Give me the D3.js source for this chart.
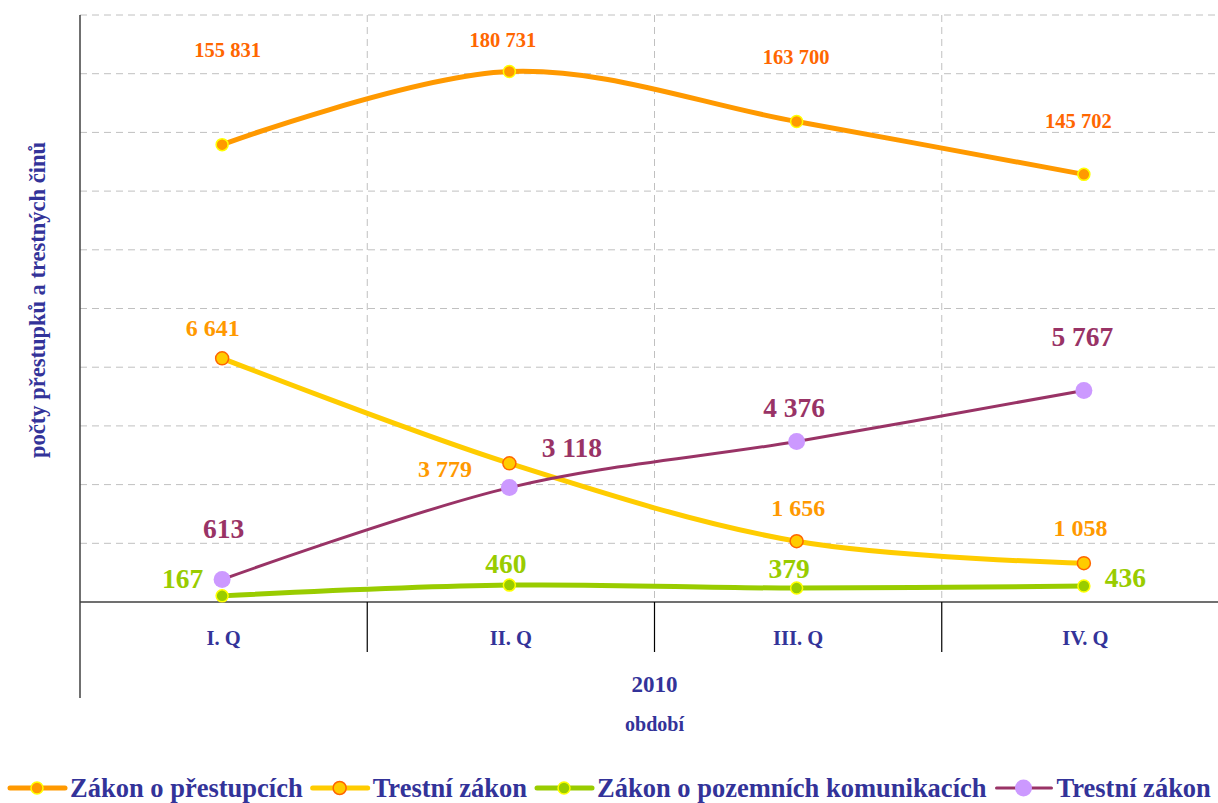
<!DOCTYPE html>
<html>
<head>
<meta charset="utf-8">
<script src="https://cdn.jsdelivr.net/npm/d3@7"></script>
<style>
body { margin: 0; background: #fff; }
text { font-family: "Liberation Serif", "Times New Roman", serif; font-weight: bold; }
</style>
</head>
<body>
<div id="vizDiv"></div>
<script>
// data
var quarters = ["I. Q", "II. Q", "III. Q", "IV. Q"]
var yearLabel = "2010"
var seriesNames = ["Zákon o přestupcích", "Trestní zákon", "Zákon o pozemních komunikacích", "Trestní zákon"]
var prestupky = [155831, 180731, 163700, 145702]
var trestniZakon = [6641, 3779, 1656, 1058]
var pozemniKomunikace = [167, 460, 379, 436]
var trestniZakon2 = [613, 3118, 4376, 5767]
var leftAxisMax = 16000
var rightAxisMax = 200000
var gridCount = 10

var width = 1218
var height = 803
var plotLeft = 80, plotRight = 1229, plotTop = 15, plotBottom = 602
var navy = "#333399"

var svg = d3.select("#vizDiv")
    .append("svg")
    .attr("width", width)
    .attr("height", height)

var x = d3.scaleBand().domain(quarters).range([plotLeft, plotRight])
var yLeft = d3.scaleLinear().domain([0, leftAxisMax]).range([plotBottom, plotTop])
var yRight = d3.scaleLinear().domain([0, rightAxisMax]).range([plotBottom, plotTop])

// styles per series (first one sits on the hidden secondary axis)
var series = [
    {name: seriesNames[0], values: prestupky, y: yRight, line: "#FF9900", lw: 5, r: 6, fill: "#FF9900", stroke: "#FFFF00", labelColor: "#FF6600", fs: 20.5},
    {name: seriesNames[1], values: trestniZakon, y: yLeft, line: "#FFCC00", lw: 5, r: 6.5, fill: "#FFCC00", stroke: "#FF6600", labelColor: "#FF9900", fs: 24},
    {name: seriesNames[2], values: pozemniKomunikace, y: yLeft, line: "#99CC00", lw: 5, r: 6, fill: "#99CC00", stroke: "#FFFF00", labelColor: "#99CC00", fs: 27.5},
    {name: seriesNames[3], values: trestniZakon2, y: yLeft, line: "#993366", lw: 3, r: 8.5, fill: "#CC99FF", stroke: "none", labelColor: "#993366", fs: 27.5}
]

// hand placed label offsets [dx, dy] from each point
var labelShift = [
    [[4, -88], [-8, -25], [-2, -58], [-7, -46]],
    [[-11, -22], [-66, 14], [0, -25], [-5, -27]],
    [[-41, -8], [-5, -12], [-9, -10], [40, 1]],
    [[0, -42], [61, -31], [-4, -24], [-3, -44]]
]

var fmt = d3.formatLocale({decimal: ",", thousands: " ", grouping: [3], currency: ["", ""]}).format(",d")

// horizontal gridlines
var gridVals = d3.range(gridCount + 1).map(function(i) { return leftAxisMax / gridCount * i })
svg.append("g")
    .selectAll("line")
    .data(gridVals.slice(1))
    .enter().append("line")
    .attr("x1", plotLeft).attr("x2", width)
    .attr("y1", function(d) { return yLeft(d) })
    .attr("y2", function(d) { return yLeft(d) })
    .attr("stroke", "#C0C0C0")
    .attr("stroke-width", 1)
    .attr("stroke-dasharray", "7,5")

// vertical gridlines at category boundaries
svg.append("g")
    .selectAll("line")
    .data(quarters.slice(1))
    .enter().append("line")
    .attr("x1", function(d) { return x(d) })
    .attr("x2", function(d) { return x(d) })
    .attr("y1", plotTop).attr("y2", plotBottom)
    .attr("stroke", "#C0C0C0")
    .attr("stroke-width", 1)
    .attr("stroke-dasharray", "7,5")

// axes
svg.append("line")
    .attr("x1", plotLeft).attr("x2", plotLeft)
    .attr("y1", plotTop).attr("y2", 698)
    .attr("stroke", "#404040").attr("stroke-width", 1.5)

svg.append("line")
    .attr("x1", plotLeft).attr("x2", width)
    .attr("y1", plotBottom).attr("y2", plotBottom)
    .attr("stroke", "#404040").attr("stroke-width", 1.5)

svg.append("g")
    .selectAll("line")
    .data(quarters.slice(1))
    .enter().append("line")
    .attr("x1", function(d) { return x(d) })
    .attr("x2", function(d) { return x(d) })
    .attr("y1", plotBottom).attr("y2", 652)
    .attr("stroke", "#000").attr("stroke-width", 1.2)

svg.append("g")
    .selectAll("text")
    .data(quarters)
    .enter().append("text")
    .attr("x", function(d) { return x(d) + x.bandwidth() / 2 })
    .attr("y", 645)
    .attr("text-anchor", "middle")
    .attr("fill", navy)
    .style("font-size", "20.5px")
    .text(function(d) { return d })

svg.append("text")
    .attr("x", (plotLeft + plotRight) / 2)
    .attr("y", 692)
    .attr("text-anchor", "middle")
    .attr("fill", navy)
    .style("font-size", "23px")
    .text(yearLabel)

svg.append("text")
    .attr("x", (plotLeft + plotRight) / 2)
    .attr("y", 731)
    .attr("text-anchor", "middle")
    .attr("fill", navy)
    .style("font-size", "20px")
    .text("období")

svg.append("text")
    .attr("transform", "translate(45,300) rotate(-90)")
    .attr("text-anchor", "middle")
    .attr("fill", navy)
    .style("font-size", "22.5px")
    .text("počty přestupků a trestných činů")

// lines, markers, labels
var cx = function(i) { return x(quarters[i]) + x.bandwidth() / 2 - 1.5 }

series.forEach(function(s, si) {
    var line = d3.line()
        .x(function(d, i) { return cx(i) })
        .y(function(d) { return s.y(d) })
        .curve(d3.curveCardinal)

    svg.append("path")
        .attr("d", line(s.values))
        .attr("fill", "none")
        .attr("stroke", s.line)
        .attr("stroke-width", s.lw)
        .attr("stroke-linejoin", "round")

    svg.append("g")
        .selectAll("circle")
        .data(s.values)
        .enter().append("circle")
        .attr("cx", function(d, i) { return cx(i) })
        .attr("cy", function(d) { return s.y(d) })
        .attr("r", s.r)
        .attr("fill", s.fill)
        .attr("stroke", s.stroke)
        .attr("stroke-width", 1.5)
})

series.forEach(function(s, si) {
    svg.append("g")
        .selectAll("text")
        .data(s.values)
        .enter().append("text")
        .attr("x", function(d, i) { return cx(i) + 1.5 + labelShift[si][i][0] })
        .attr("y", function(d, i) { return s.y(d) + labelShift[si][i][1] })
        .attr("text-anchor", "middle")
        .attr("fill", s.labelColor)
        .style("font-size", s.fs + "px")
        .text(function(d) { return fmt(d) })
})

// legend
var legendX = 10, legendY = 788
series.forEach(function(s) {
    var g = svg.append("g").attr("transform", "translate(" + legendX + "," + legendY + ")")
    g.append("line")
        .attr("x1", 0).attr("x2", 55)
        .attr("y1", 0).attr("y2", 0)
        .attr("stroke", s.line)
        .attr("stroke-width", s.lw)
        .attr("stroke-linecap", "round")
    g.append("circle")
        .attr("cx", 27).attr("cy", 0)
        .attr("r", s.r)
        .attr("fill", s.fill)
        .attr("stroke", s.stroke)
        .attr("stroke-width", 1.5)
    var t = g.append("text")
        .attr("x", 60).attr("y", 9)
        .attr("fill", navy)
        .style("font-size", "26.5px")
        .text(s.name)
    legendX += 60 + t.node().getComputedTextLength() + 10
})
</script>
</body>
</html>
